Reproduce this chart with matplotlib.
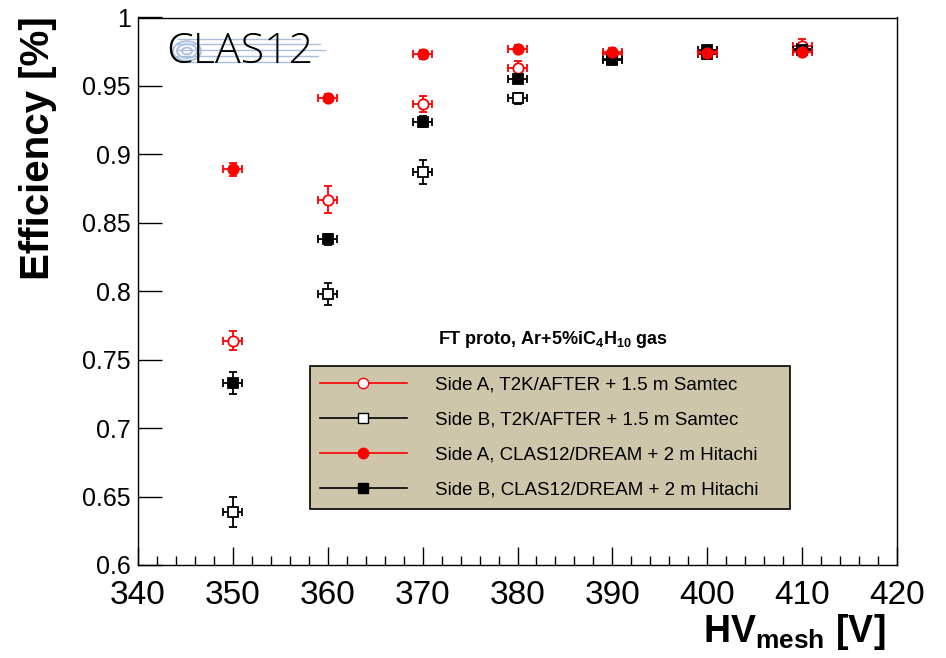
import numpy as np
import matplotlib
matplotlib.use("Agg")
import matplotlib.pyplot as plt
from matplotlib.lines import Line2D
from matplotlib.patches import Circle

plt.rcParams['font.family'] = ['Liberation Sans', 'DejaVu Sans']
plt.rcParams['mathtext.fontset'] = 'custom'
plt.rcParams['mathtext.rm'] = 'Liberation Sans'
plt.rcParams['mathtext.bf'] = 'Liberation Sans:bold'

# HV mesh values (V)
hv = [350, 360, 370, 380, 390, 400, 410]
hv_err = 1.0

# efficiencies
eff_a_t2k = [0.764, 0.867, 0.937, 0.963, 0.973, 0.975, 0.979]
err_a_t2k = [0.007, 0.010, 0.006, 0.005, 0.004, 0.004, 0.005]
eff_b_t2k = [0.639, 0.798, 0.887, 0.941, 0.969, 0.973, 0.977]
err_b_t2k = [0.011, 0.008, 0.009, 0.004, 0.003, 0.003, 0.003]
eff_a_dream = [0.889, 0.941, 0.973, 0.977, 0.975, 0.974, 0.975]
err_a_dream = [0.005, 0.003, 0.003, 0.003, 0.003, 0.003, 0.003]
eff_b_dream = [0.733, 0.838, 0.924, 0.955, 0.970, 0.976, 0.976]
err_b_dream = [0.008, 0.004, 0.004, 0.003, 0.003, 0.003, 0.003]

labels = ["Side A, T2K/AFTER + 1.5 m Samtec",
          "Side B, T2K/AFTER + 1.5 m Samtec",
          "Side A, CLAS12/DREAM + 2 m Hitachi",
          "Side B, CLAS12/DREAM + 2 m Hitachi"]

W, H = 946, 658
fig = plt.figure(figsize=(W / 100, H / 100), dpi=100)
ax = fig.add_axes([138 / W, 1 - 565 / H, (897 - 138) / W, (565 - 17.5) / H])

def draw(y, yerr, color, marker, filled, ms):
    ax.errorbar(hv, y, xerr=hv_err, yerr=yerr, fmt=marker, color=color,
                mfc=color if filled else 'white', mec=color, ms=ms, mew=1.3,
                elinewidth=1.3, capsize=3, capthick=1.3)

draw(eff_b_t2k, err_b_t2k, 'black', 's', False, 7)
draw(eff_a_t2k, err_a_t2k, 'red', 'o', False, 7.5)
draw(eff_b_dream, err_b_dream, 'black', 's', True, 7)
draw(eff_a_dream, err_a_dream, 'red', 'o', True, 7.5)

ax.set_xlim(340, 420)
ax.set_ylim(0.6, 1.0)
ax.set_xticks(np.arange(340, 421, 10))
ax.set_xticks(np.arange(340, 421, 2), minor=True)
ax.set_yticks(np.arange(0.6, 1.001, 0.05))
ax.set_yticklabels(['0.6', '0.65', '0.7', '0.75', '0.8', '0.85', '0.9', '0.95', '1'])
ax.tick_params(axis='x', which='major', direction='in', length=13, width=1,
               labelsize=24, pad=11)
ax.tick_params(axis='x', which='minor', direction='in', length=6.5, width=1)
ax.tick_params(axis='y', which='major', direction='in', length=17, width=1,
               labelsize=18, pad=5)
for s in ax.spines.values():
    s.set_linewidth(1)

fig.text(38 / W, 1 - 16 / H, "Efficiency [%]", rotation=90, ha='center',
         va='top', fontsize=29, fontweight='bold')
fig.text(885 / W, 1 - 652 / H, r"HV$_{\mathbf{mesh}}$ [V]", ha='right',
         va='bottom', fontsize=27, fontweight='bold')

# legend
handles = [
    Line2D([], [], color='red', marker='o', mfc='white', mec='red', ms=7.5, lw=1.2),
    Line2D([], [], color='black', marker='s', mfc='white', mec='black', ms=7, lw=1.2),
    Line2D([], [], color='red', marker='o', mfc='red', mec='red', ms=7.5, lw=1.2),
    Line2D([], [], color='black', marker='s', mfc='black', mec='black', ms=7, lw=1.2),
]
leg = fig.legend(handles, labels, loc='upper left',
                 bbox_to_anchor=(310 / W, 1 - 506 / H, (790 - 310) / W, (506 - 366) / H),
                 mode='expand', fontsize=13.5, handlelength=4.6, handletextpad=1.5,
                 labelspacing=0.95, borderpad=0.55, borderaxespad=0,
                 fancybox=False, facecolor='#cdc6aa', edgecolor='black', framealpha=1)
leg.get_frame().set_linewidth(1.2)
fig.text(553 / W, 1 - 340 / H, r"FT proto, Ar+5%iC$_{\mathbf{4}}$H$_{\mathbf{10}}$ gas",
         ha='center', va='center', fontsize=13, fontweight='bold')

# CLAS12 logo
logo_blue = '#a9c0dc'
for yy, x0, x1 in [(39, 178, 300), (44, 176, 320), (50, 178, 325), (56, 176, 318), (62, 180, 300)]:
    fig.add_artist(Line2D([x0 / W, x1 / W], [1 - yy / H, 1 - yy / H],
                          transform=fig.transFigure, color=logo_blue, lw=1))
for r in [14, 10, 5]:
    fig.add_artist(Circle((187 / W, 1 - 51 / H), r / W, transform=fig.transFigure,
                          fill=False, ec=logo_blue, lw=1.3))
fig.text(166 / W, 1 - 52 / H, "CLAS12", ha='left', va='center', fontsize=31,
         family=['Open Sans', 'DejaVu Sans'], fontweight='light', color='black')

fig.savefig("out.png", dpi=100)
